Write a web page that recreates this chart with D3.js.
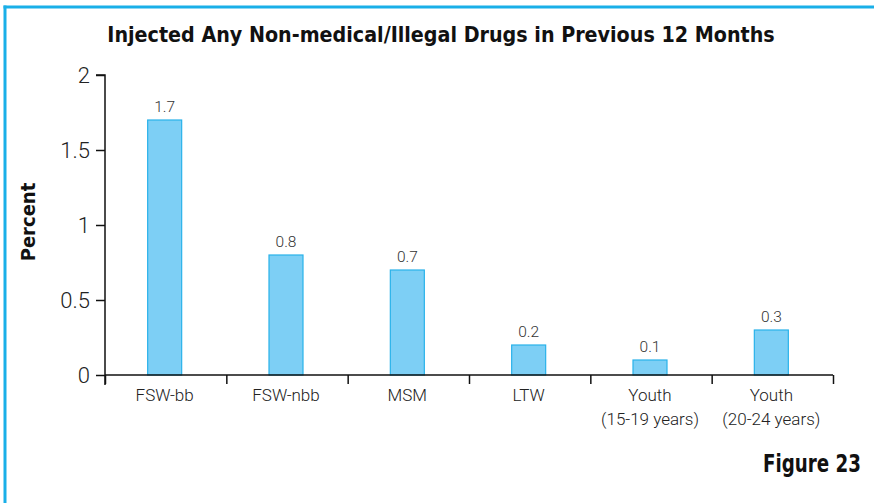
<!DOCTYPE html>
<html><head><meta charset="utf-8">
<script src="https://cdn.jsdelivr.net/npm/d3@7"></script>
<style>body{margin:0;background:#fff;} svg{display:block;}</style>
</head><body>
<script>
const categories = [["FSW-bb"],["FSW-nbb"],["MSM"],["LTW"],["Youth","(15-19 years)"],["Youth","(20-24 years)"]];
const values = [1.7, 0.8, 0.7, 0.2, 0.1, 0.3];
const yTicks = [0, 0.5, 1, 1.5, 2];
const title = "Injected Any Non-medical/Illegal Drugs in Previous 12 Months";
const yLabel = "Percent";
const figLabel = "Figure 23";

const W = 874, H = 503;
const svg = d3.select("body").append("svg").attr("width", W).attr("height", H);

// frame
svg.append("line").attr("x1",3.5).attr("x2",874).attr("y1",7).attr("y2",7).attr("stroke","#1AAFE8").attr("stroke-width",3);
svg.append("line").attr("x1",5).attr("x2",5).attr("y1",5.5).attr("y2",503).attr("stroke","#1AAFE8").attr("stroke-width",3);

const x0 = 105, x1 = 833, y0 = 375, yTop = 75;
const idx = d3.range(categories.length);
const x = d3.scaleBand().domain(idx).range([x0, x1]).paddingInner(0).paddingOuter(0);
const y = d3.scaleLinear().domain([0, 2]).range([y0, yTop]);
const barW = 34;

const light = "Roboto, 'Liberation Sans', sans-serif";

// bars
svg.selectAll("rect.bar").data(values).join("rect")
  .attr("class","bar")
  .attr("x",(d,i)=>x(i)+x.bandwidth()/2-barW/2-1)
  .attr("y",d=>y(d))
  .attr("width",barW)
  .attr("height",d=>y(0)-y(d))
  .attr("fill","#7DCFF5").attr("stroke","#29B2EA").attr("stroke-width",1.2);

// value labels
svg.selectAll("text.val").data(values).join("text")
  .attr("class","val")
  .attr("x",(d,i)=>x(i)+x.bandwidth()/2-1)
  .attr("y",d=>y(d)-8)
  .attr("text-anchor","middle")
  .attr("font-family",light).attr("font-weight",300).attr("font-size",15.5).attr("fill","#333")
  .text(d=>d);

// y axis
const yAxis = d3.axisLeft(y).tickValues(yTicks).tickSize(9).tickPadding(6).tickFormat(d3.format("~g"));
const gy = svg.append("g").attr("transform",`translate(${x0},0)`).call(yAxis);
gy.select(".domain").attr("d",`M-9,${yTop}H0V${y0+10}`).attr("stroke","#111").attr("stroke-width",1.5);
gy.selectAll(".tick line").attr("stroke","#111").attr("stroke-width",1.5);
gy.selectAll(".tick text").attr("font-family",light).attr("font-weight",300).attr("font-size",22).attr("fill","#222").attr("dy","0.36em");

// x axis
const xAxis = d3.axisBottom(d3.scaleLinear().domain([0,categories.length]).range([x0,x1]))
  .tickValues(d3.range(categories.length+1)).tickSize(9).tickFormat("");
const gx = svg.append("g").attr("transform",`translate(0,${y0})`).call(xAxis);
gx.select(".domain").attr("d",`M${x0},0H${x1}`).attr("stroke","#111").attr("stroke-width",1.5);
gx.selectAll(".tick line").attr("stroke","#111").attr("stroke-width",1.5);

// category labels
const cl = svg.selectAll("text.cat").data(categories).join("text")
  .attr("class","cat")
  .attr("x",(d,i)=>x(i)+x.bandwidth()/2-1)
  .attr("y",401)
  .attr("text-anchor","middle")
  .attr("font-family",light).attr("font-weight",300).attr("font-size",17).attr("fill","#222");
cl.selectAll("tspan").data(d=>d).join("tspan")
  .attr("x",function(){return this.parentNode.getAttribute("x");})
  .attr("dy",(d,i)=>i===0?0:24)
  .text(d=>d);

// condensed bold labels, narrowed by a horizontal scale
const cond = "'Liberation Sans Narrow','DejaVu Sans Condensed','Arial Narrow',sans-serif";
function condText(str, size, targetW, anchor, tx, ty, rot) {
  const g = svg.append("g");
  const tt = g.append("text").attr("text-anchor",anchor)
    .attr("font-family",cond).attr("font-weight",700).attr("font-size",size).attr("fill","#111").text(str);
  const w = tt.node().getComputedTextLength();
  const s = Math.min(1, targetW / w);
  g.attr("transform",`translate(${tx},${ty})${rot?` rotate(${rot})`:""} scale(${s},1)`);
  return g;
}
condText(title, 22, 668, "middle", 441, 42, 0);
condText(yLabel, 20, 80, "middle", 35, 222, -90);
condText(figLabel, 25, 98, "end", 861, 472, 0);
</script>
</body></html>
